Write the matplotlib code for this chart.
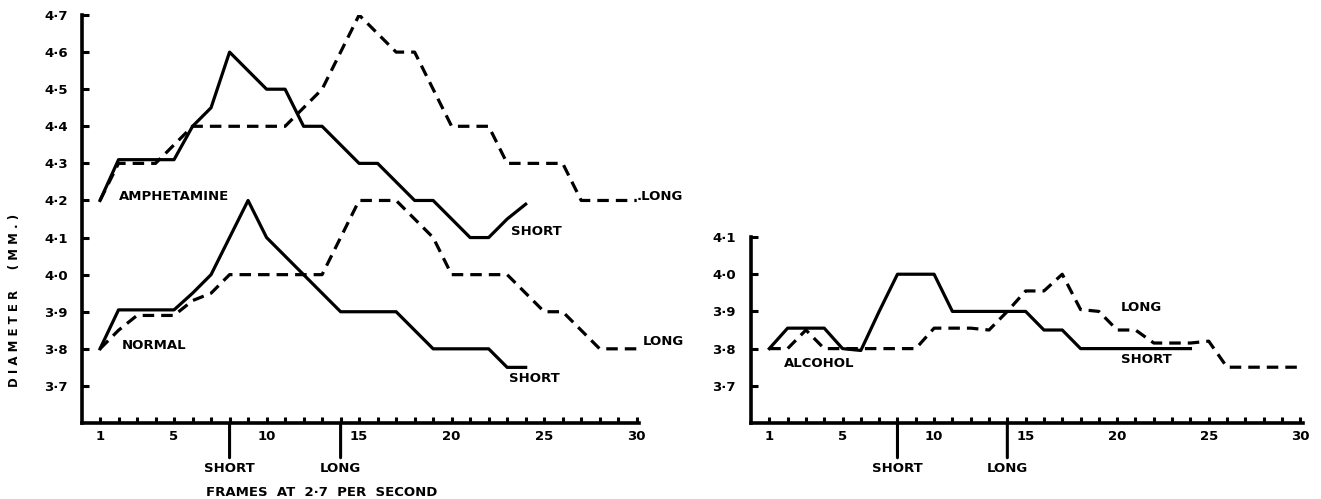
import matplotlib
matplotlib.use("Agg")
import matplotlib.pyplot as plt
import numpy as np

plt.rcParams["font.family"] = ["DejaVu Sans"]
plt.rcParams["font.weight"] = "bold"

FRAMES = np.arange(1, 31)
XTICK_LABELS = (1, 5, 10, 15, 20, 25, 30)
BIG_TICKS = (10, 20, 30)
MARK_FRAMES = (8, 14)
MARK_LABELS = ("SHORT", "LONG")

# diameters (mm), one value per frame
AMPH_SHORT = [4.20, 4.31, 4.31, 4.31, 4.31, 4.40, 4.45, 4.60, 4.55, 4.50, 4.50, 4.40,
              4.40, 4.35, 4.30, 4.30, 4.25, 4.20, 4.20, 4.15, 4.10, 4.10, 4.15, 4.19]
AMPH_LONG = [4.20, 4.30, 4.30, 4.30, 4.35, 4.40, 4.40, 4.40, 4.40, 4.40, 4.40, 4.45,
             4.50, 4.60, 4.70, 4.65, 4.60, 4.60, 4.50, 4.40, 4.40, 4.40, 4.30, 4.30,
             4.30, 4.30, 4.20, 4.20, 4.20, 4.20]
NORMAL_SHORT = [3.80, 3.905, 3.905, 3.905, 3.905, 3.95, 4.00, 4.10, 4.20, 4.10, 4.05, 4.00,
                3.95, 3.90, 3.90, 3.90, 3.90, 3.85, 3.80, 3.80, 3.80, 3.80, 3.75, 3.75]
NORMAL_LONG = [3.80, 3.85, 3.89, 3.89, 3.89, 3.93, 3.95, 4.00, 4.00, 4.00, 4.00, 4.00,
               4.00, 4.10, 4.20, 4.20, 4.20, 4.15, 4.10, 4.00, 4.00, 4.00, 4.00, 3.95,
               3.90, 3.90, 3.85, 3.80, 3.80, 3.80]
ALC_SHORT = [3.80, 3.855, 3.855, 3.855, 3.80, 3.795, 3.90, 4.00, 4.00, 4.00, 3.90, 3.90,
             3.90, 3.90, 3.90, 3.85, 3.85, 3.80, 3.80, 3.80, 3.80, 3.80, 3.80, 3.80]
ALC_LONG = [3.80, 3.80, 3.85, 3.80, 3.80, 3.80, 3.80, 3.80, 3.80, 3.855, 3.855, 3.855,
            3.85, 3.90, 3.955, 3.955, 4.00, 3.905, 3.90, 3.85, 3.85, 3.815, 3.815, 3.815,
            3.82, 3.75, 3.75, 3.75, 3.75, 3.75]

FS = 9.5
LW = 2.3


def style_axis(ax, ylo, yhi, ypad):
    ax.set_xlim(0, 30.15)
    ax.set_ylim(ylo, yhi)
    for side in ("top", "right"):
        ax.spines[side].set_visible(False)
    for side in ("left", "bottom"):
        ax.spines[side].set_linewidth(2.6)
    yt = np.round(np.arange(3.7, yhi + 0.001, 0.1), 1)
    ax.set_yticks(yt)
    ax.set_yticklabels([f"{v:.1f}".replace(".", "·") for v in yt])
    ax.set_xticks(FRAMES)
    ax.set_xticklabels([str(f) if f in XTICK_LABELS else "" for f in FRAMES])
    ax.set_xticks(BIG_TICKS, minor=True)
    ax.tick_params(axis="x", which="major", direction="in", length=4.5, width=2.2, pad=5, labelsize=FS)
    ax.tick_params(axis="x", which="minor", direction="in", length=10, width=2.2)
    ax.tick_params(axis="y", which="major", direction="in", length=5, width=2.2, pad=ypad, labelsize=FS)
    for frame, label in zip(MARK_FRAMES, MARK_LABELS):
        ax.annotate("", xy=(frame, 0), xycoords=("data", "axes fraction"),
                    xytext=(0, -25), textcoords="offset points",
                    arrowprops=dict(arrowstyle="-", lw=2.2, shrinkA=0, shrinkB=0))
        ax.annotate(label, xy=(frame, 0), xycoords=("data", "axes fraction"),
                    xytext=(0, -33), textcoords="offset points",
                    ha="center", va="center", fontsize=FS)


fig = plt.figure(figsize=(13.21, 4.99), dpi=100)
ax1 = fig.add_axes([0.0617, 0.1523, 0.4224, 0.8176])
ax2 = fig.add_axes([0.5685, 0.1523, 0.4179, 0.3727])

dash = (0, (3.6, 2.2))

ax1.plot(FRAMES[:len(AMPH_SHORT)], AMPH_SHORT, color="black", lw=LW)
ax1.plot(FRAMES[:len(AMPH_LONG)], AMPH_LONG, color="black", lw=LW, linestyle=dash)
ax1.plot(FRAMES[:len(NORMAL_SHORT)], NORMAL_SHORT, color="black", lw=LW)
ax1.plot(FRAMES[:len(NORMAL_LONG)], NORMAL_LONG, color="black", lw=LW, linestyle=dash)
style_axis(ax1, 3.6, 4.7, 10)

ax1.text(2.0, 4.21, "AMPHETAMINE", fontsize=FS, va="center", ha="left")
ax1.text(23.2, 4.115, "SHORT", fontsize=FS, va="center", ha="left")
ax1.text(30.0, 4.21, ".LONG", fontsize=FS, va="center", ha="left")
ax1.text(2.2, 3.81, "NORMAL", fontsize=FS, va="center", ha="left")
ax1.text(23.1, 3.72, "SHORT", fontsize=FS, va="center", ha="left")
ax1.text(30.3, 3.82, "LONG", fontsize=FS, va="center", ha="left")
ax1.annotate("FRAMES  AT  2·7  PER  SECOND", xy=(13, 0), xycoords=("data", "axes fraction"),
             xytext=(0, -50), textcoords="offset points", ha="center", va="center", fontsize=FS)

ax2.plot(FRAMES[:len(ALC_SHORT)], ALC_SHORT, color="black", lw=LW)
ax2.plot(FRAMES[:len(ALC_LONG)], ALC_LONG, color="black", lw=LW, linestyle=dash)
style_axis(ax2, 3.6, 4.1, 11)

ax2.text(1.8, 3.76, "ALCOHOL", fontsize=FS, va="center", ha="left")
ax2.text(20.2, 3.91, "LONG", fontsize=FS, va="center", ha="left")
ax2.text(20.2, 3.77, "SHORT", fontsize=FS, va="center", ha="left")

fig.text(0.011, 1 - 300 / 499, "D I A M E T E R     ( M M . )", rotation=90,
         ha="center", va="center", fontsize=8.5)

fig.savefig("out.png", dpi=100)
